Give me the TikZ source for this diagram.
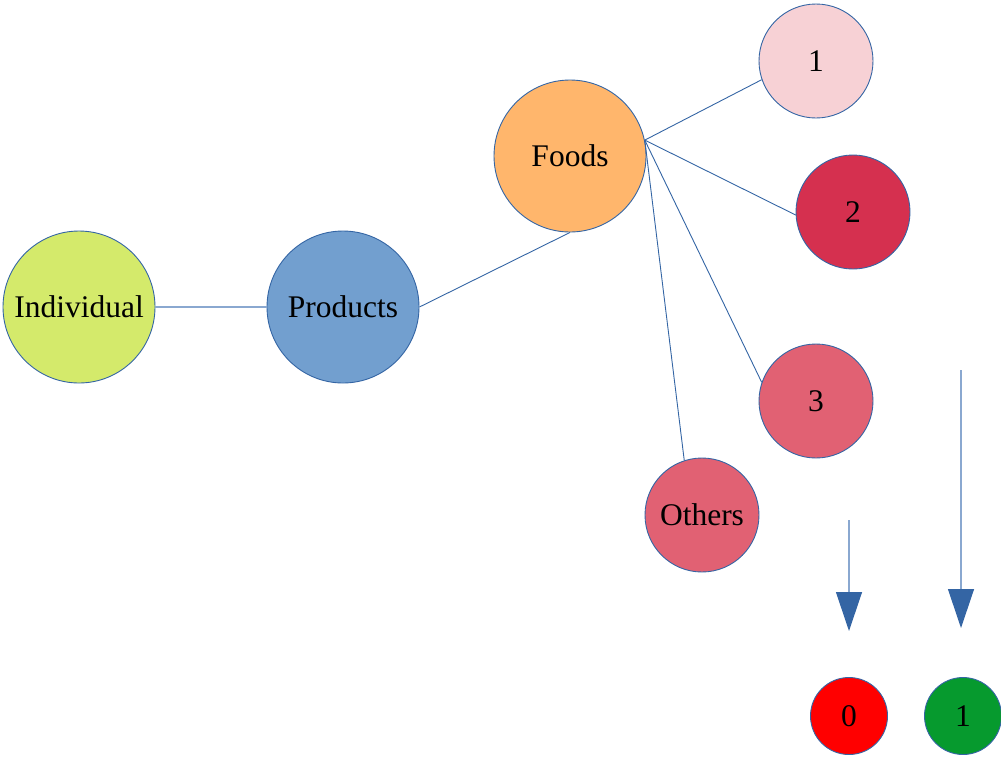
\documentclass[tikz,border=0pt]{standalone}
\usepackage{fontspec}
\setmainfont{Liberation Serif}
\usetikzlibrary{arrows.meta}
\definecolor{edge}{HTML}{3465A4}
\definecolor{lightedge}{HTML}{8AA8D0}
\definecolor{cLime}{HTML}{D4EA6B}
\definecolor{cBlue}{HTML}{729FCF}
\definecolor{cOrange}{HTML}{FFB66C}
\definecolor{cPink}{HTML}{F7D1D5}
\definecolor{cCrimson}{HTML}{D5304F}
\definecolor{cRose}{HTML}{E16173}
\definecolor{cRed}{HTML}{FF0000}
\definecolor{cGreen}{HTML}{069A2E}
\begin{document}
\begin{tikzpicture}[x=1pt,y=-1pt,
  ball/.style={circle,draw=edge,line width=0.9pt,inner sep=0pt,
    font=\fontsize{31.5}{36}\selectfont},
  big/.style={ball,minimum size=152pt},
  mid/.style={ball,minimum size=114pt},
  small/.style={ball,minimum size=77pt},
  link/.style={draw=edge,line width=0.9pt},
  down/.style={draw=lightedge,line width=1.2pt,
    -{Triangle[length=39pt,width=26pt,fill=edge,color=edge]}}]
\useasboundingbox (0,0) rectangle (1001,756);

% main chain
\node[big,fill=cLime] (ind) at (79,307) {Individual};
\node[big,fill=cBlue] (prod) at (343,307) {Products};
\node[big,fill=cOrange] (food) at (570,156) {Foods};

% food categories
\node[mid,fill=cPink] (c1) at (816,61) {1};
\node[mid,fill=cCrimson] (c2) at (853,212) {2};
\node[mid,fill=cRose] (c3) at (816,401) {3};
\node[mid,fill=cRose] (oth) at (702,515) {Others};

% outcomes
\node[small,fill=cRed] (z) at (849,716) {0};
\node[small,fill=cGreen] (o) at (963,716) {1};

% connectors
\draw[draw=lightedge,line width=1.4pt] (ind.east) -- (prod.west);
\draw[link] (prod.east) -- (food.south);
\coordinate (hub) at (food.12);
\draw[link] (hub) -- (c1.199);
\draw[link] (hub) -- (c2.183);
\draw[link] (hub) -- (c3.161);
\draw[link] (hub) -- (oth.108);

% arrows
\coordinate (a0s) at (849,520);
\coordinate (a0e) at (849,631);
\coordinate (a1s) at (961,370);
\coordinate (a1e) at (961,628);
\draw[down] (a0s) -- (a0e);
\draw[down] (a1s) -- (a1e);
\end{tikzpicture}
\end{document}
